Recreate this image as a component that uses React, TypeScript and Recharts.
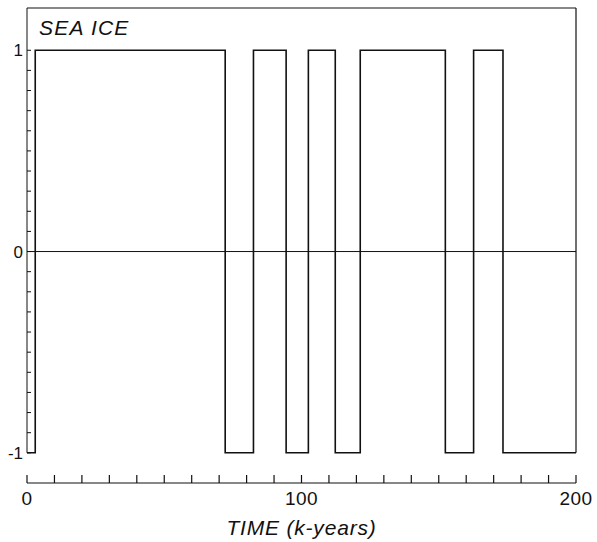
import React from 'react';
import { LineChart, Line, XAxis, YAxis, ReferenceLine, Label } from 'recharts';

// --- Data ---

// switching times of the sea ice state (k-years)
const TIME = [0, 3, 72.2, 82.5, 94.4, 102.5, 112.3, 121.4, 152.4, 162.7, 173.4, 200];
const SEA_ICE = [-1, 1, -1, 1, -1, 1, -1, 1, -1, 1, -1, -1];

const X_TICKS = [0, 10, 20, 30, 40, 50, 60, 70, 80, 90, 100, 110, 120, 130, 140, 150, 160, 170, 180, 190, 200];
const X_LABELS = [0, 100, 200];
const Y_TICKS = [-1, -0.9, -0.8, -0.7, -0.6, -0.5, -0.4, -0.3, -0.2, -0.1, 0, 0.1, 0.2, 0.3, 0.4, 0.5, 0.6, 0.7, 0.8, 0.9, 1];
const Y_LABELS = [-1, 0, 1];

const FRAME_TOP = 1.21;

const data = TIME.map((t, i) => ({ t, v: SEA_ICE[i] }));

const FONT = '"Liberation Sans", Arial, sans-serif';
const INK = '#111';

// --- Ticks ---

const XTick = ({ x, y, payload }: any) => {
    const showLabel = X_LABELS.includes(payload.value);
    return (
        <g>
            <line x1={x} y1={y} x2={x} y2={y - 8} stroke={INK} strokeWidth={1.2} />
            {showLabel && (
                <text x={x} y={y + 22} textAnchor="middle" fontSize={19} letterSpacing={0.5} fontFamily={FONT} fill={INK}>
                    {payload.value}
                </text>
            )}
        </g>
    );
};

const YTick = ({ x, y, payload }: any) => {
    const showLabel = Y_LABELS.includes(payload.value);
    return (
        <g>
            <line x1={x} y1={y} x2={x + 4} y2={y} stroke={INK} strokeWidth={1} />
            {showLabel && (
                <text x={x - 4} y={y + 6} textAnchor="end" fontSize={17} fontFamily={FONT} fill={INK}>
                    {payload.value}
                </text>
            )}
        </g>
    );
};

const AxisTitle = ({ viewBox }: any) => (
    <text
        x={viewBox.x + viewBox.width / 2}
        y={viewBox.y + 52}
        textAnchor="middle"
        fontSize={21}
        letterSpacing={0.8}
        fontStyle="italic"
        fontFamily={FONT}
        fill={INK}
    >
        TIME (k-years)
    </text>
);

export default function App() {
    return (
        <div style={{ position: 'fixed', top: 0, left: 0, width: 597, height: 542, background: '#fff' }}>
            <LineChart width={597} height={542} data={data} margin={{ top: 8, right: 21, left: 0, bottom: 0 }}>
                <XAxis
                    dataKey="t"
                    type="number"
                    domain={[0, 200]}
                    ticks={X_TICKS}
                    interval={0}
                    tick={<XTick />}
                    tickLine={false}
                    tickSize={0}
                    tickMargin={0}
                    axisLine={{ stroke: INK, strokeWidth: 1.2 }}
                    height={59}
                >
                    <Label content={<AxisTitle />} />
                </XAxis>
                <YAxis
                    type="number"
                    domain={[-1.15, FRAME_TOP]}
                    ticks={Y_TICKS}
                    interval={0}
                    tick={<YTick />}
                    tickLine={false}
                    tickSize={0}
                    tickMargin={0}
                    axisLine={false}
                    width={27}
                />
                {/* frame around the upper panel */}
                <ReferenceLine segment={[{ x: 0, y: -1 }, { x: 0, y: FRAME_TOP }]} stroke={INK} strokeWidth={1} ifOverflow="visible" />
                <ReferenceLine segment={[{ x: 0, y: FRAME_TOP }, { x: 200, y: FRAME_TOP }]} stroke={INK} strokeWidth={1.2} ifOverflow="visible" />
                <ReferenceLine segment={[{ x: 200, y: -1 }, { x: 200, y: FRAME_TOP }]} stroke={INK} strokeWidth={1.2} ifOverflow="visible" />
                <ReferenceLine y={0} stroke={INK} strokeWidth={1} />
                <Line
                    type="stepAfter"
                    dataKey="v"
                    stroke={INK}
                    strokeWidth={1.6}
                    dot={false}
                    isAnimationActive={false}
                />
            </LineChart>
            <div
                style={{
                    position: 'absolute',
                    left: 39,
                    top: 16,
                    fontFamily: FONT,
                    fontStyle: 'italic',
                    fontSize: 21,
                    letterSpacing: 1.2,
                    color: INK,
                    lineHeight: '24px',
                }}
            >
                SEA ICE
            </div>
        </div>
    );
}
